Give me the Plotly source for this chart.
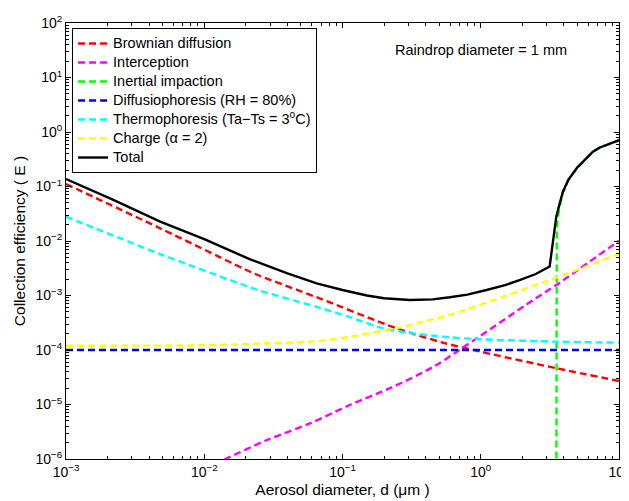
import plotly.graph_objects as go

# ---------------- data ----------------
brown_x = [0.001, 0.0048, 0.0215, 0.0254, 0.065, 0.246, 0.535, 1.0, 3.57, 10.0]
brown_y = [0.111, 0.0171, 2.73e-3, 2.28e-3, 9.3e-4, 2.5e-4, 1.36e-4, 9.3e-5, 4.6e-5, 2.7e-5]

inter_x = [0.01, 0.0142, 0.0284, 0.0582, 0.113, 0.233, 0.453, 0.70, 2.4, 3.52, 10.0]
inter_y = [6.7e-7, 1.0e-6, 2.23e-6, 4.5e-6, 9.8e-6, 2.12e-5, 4.9e-5, 1.0e-4, 8.3e-4, 1.56e-3, 1.01e-2]

impact_x = [3.52, 3.521, 3.53, 3.55, 3.6, 3.7, 3.93, 4.3, 4.64, 5.0, 5.5, 6.0, 6.47, 7.2, 8.0, 9.0, 10.0]
impact_y = [1e-7, 1e-3, 6e-3, 0.016, 0.025, 0.04, 0.077, 0.13, 0.172, 0.22, 0.282, 0.36, 0.43, 0.51, 0.57, 0.64, 0.70]

diffph_x = [0.001, 10.0]
diffph_y = [1e-4, 1e-4]

thermo_x = [0.001, 0.0048, 0.0215, 0.0254, 0.065, 0.113, 0.197, 0.3, 0.597, 1.0, 3.57, 10.0]
thermo_y = [0.0279, 5.77e-3, 1.41e-3, 1.22e-3, 6.2e-4, 4.0e-4, 2.5e-4, 2.07e-4, 1.71e-4, 1.57e-4, 1.42e-4, 1.36e-4]

charge_x = [0.001, 0.01, 0.0215, 0.065, 0.113, 0.246, 0.363, 0.597, 3.15, 10.0]
charge_y = [1.2e-4, 1.22e-4, 1.29e-4, 1.45e-4, 1.75e-4, 2.5e-4, 3.2e-4, 4.4e-4, 1.92e-3, 5.8e-3]

total_x = [0.001, 0.0022, 0.0048, 0.01, 0.0215, 0.04, 0.065, 0.1, 0.15, 0.2, 0.307, 0.45, 0.597, 0.8,
           1.1, 1.5, 1.91, 2.5, 3.15, 3.52, 3.7, 3.93, 4.3, 4.64, 5.0, 5.5, 6.0, 6.47, 7.2, 8.0, 9.0, 10.0]
total_y = [0.137, 0.057, 0.0226, 0.0108, 4.6e-3, 2.55e-3, 1.67e-3, 1.26e-3, 1.0e-3, 8.9e-4, 8.26e-4, 8.5e-4, 9.3e-4,
           1.04e-3, 1.26e-3, 1.55e-3, 1.92e-3, 2.48e-3, 3.4e-3, 0.028, 0.046, 0.080, 0.133, 0.175, 0.225, 0.285, 0.36,
           0.435, 0.515, 0.577, 0.645, 0.71]

series_names = ["Brownian diffusion", "Interception", "Inertial impaction",
                "Diffusiophoresis (RH = 80%)", "Thermophoresis (Ta\u2212Ts = 3<sup>o</sup>C)",
                "Charge (\u03b1 = 2)", "Total"]

x_tick_vals = [1e-3, 1e-2, 1e-1, 1e0, 1e1]
x_tick_text = ["10<sup>\u22123</sup>", "10<sup>\u22122</sup>", "10<sup>\u22121</sup>",
               "10<sup>0</sup>", "10<sup>1</sup>"]
y_tick_vals = [1e-6, 1e-5, 1e-4, 1e-3, 1e-2, 1e-1, 1e0, 1e1, 1e2]
y_tick_text = ["10<sup>\u22126</sup>", "10<sup>\u22125</sup>", "10<sup>\u22124</sup>",
               "10<sup>\u22123</sup>", "10<sup>\u22122</sup>", "10<sup>\u22121</sup>",
               "10<sup>0</sup>", "10<sup>1</sup>", "10<sup>2</sup>"]

# ---------------- figure ----------------
FONT = "Liberation Sans, Arial, Helvetica, sans-serif"
DASH = "7px,4px"
PAGE_OFF = 8  # default body margin of the html page


def leg(t):
    return '<span style="font-size:14.5px">' + t + '</span>'


fig = go.Figure()
specs = [
    (brown_x, brown_y, "#ff0000", DASH, "spline"),
    (inter_x, inter_y, "#ff00ff", DASH, "spline"),
    (impact_x, impact_y, "#00ff00", DASH, "linear"),
    (diffph_x, diffph_y, "#0000ff", DASH, "linear"),
    (thermo_x, thermo_y, "#00ffff", DASH, "spline"),
    (charge_x, charge_y, "#ffff00", DASH, "spline"),
    (total_x, total_y, "#000000", "solid", "linear"),
]
for (xs, ys, col, dash, shape), nm in zip(specs, series_names):
    fig.add_trace(go.Scatter(
        x=xs, y=ys, mode="lines", name=leg(nm),
        line=dict(color=col, width=2.4, dash=dash, shape=shape,
                  smoothing=0.8 if shape == "spline" else None),
        hoverinfo="skip"))

minor_x = [m * 10.0 ** e for e in range(-3, 1) for m in range(2, 10)]
minor_y = [m * 10.0 ** e for e in range(-6, 2) for m in range(2, 10)]

axis_common = dict(
    type="log", showgrid=False, zeroline=False, showline=True, automargin=False,
    linecolor="black", linewidth=1, mirror="allticks",
    ticks="inside", ticklen=5, tickwidth=1, tickcolor="black",
    tickmode="array", tickfont=dict(family=FONT, size=14, color="black"),
    ticklabeloverflow="allow",
)

fig.update_layout(
    template="none",
    width=629 - PAGE_OFF, height=501 - PAGE_OFF,
    margin=dict(l=66 - PAGE_OFF, r=10, t=23 - PAGE_OFF, b=42, autoexpand=False),
    paper_bgcolor="white", plot_bgcolor="white",
    font=dict(family=FONT, color="black"),
    xaxis=dict(axis_common, range=[-3, 1], tickvals=x_tick_vals, ticktext=x_tick_text,
               minor=dict(tickmode="array", tickvals=minor_x, ticks="inside", ticklen=3,
                          tickcolor="black", showgrid=False),
               title=dict(text="Aerosol diameter, d (\u03bcm )", font=dict(size=15.5), standoff=5)),
    yaxis=dict(axis_common, range=[-6, 2], tickvals=y_tick_vals, ticktext=y_tick_text,
               minor=dict(tickmode="array", tickvals=minor_y, ticks="inside", ticklen=3,
                          tickcolor="black", showgrid=False),
               title=dict(text="Collection efficiency ( E )", font=dict(size=15.5), standoff=6)),
    legend=dict(x=0.011, y=0.9885, xanchor="left", yanchor="top",
                bgcolor="white", bordercolor="black", borderwidth=1,
                font=dict(family=FONT, size=11, color="black"),
                tracegroupgap=0, itemclick=False, itemdoubleclick=False),
    showlegend=True,
    annotations=[dict(text="Raindrop diameter = 1 mm", xref="paper", yref="paper",
                      x=0.75, y=0.938, xanchor="center", yanchor="middle", showarrow=False,
                      font=dict(family=FONT, size=14.5, color="black"))],
)

fig.write_html("out.html")
